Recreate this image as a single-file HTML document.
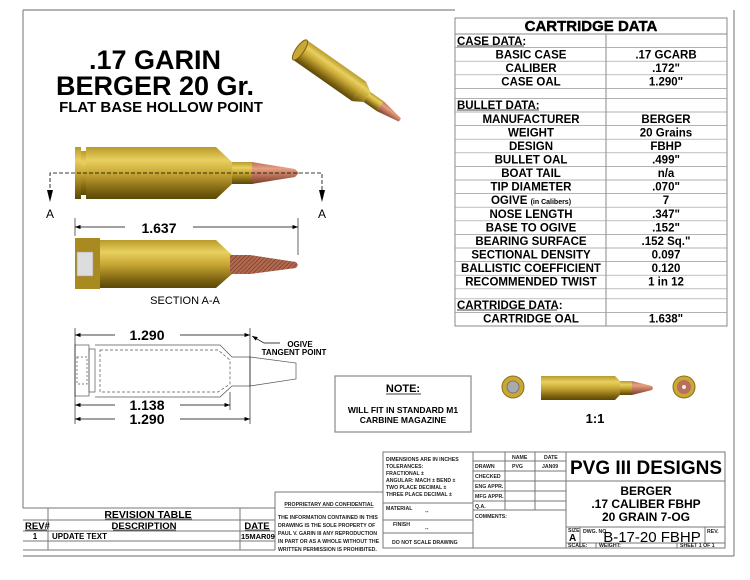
<!DOCTYPE html>
<html><head><meta charset="utf-8"><style>
body{margin:0;background:#fff;}
svg{display:block;font-family:"Liberation Sans",Arial,sans-serif;}
</style></head><body>
<svg width="750" height="580" viewBox="0 0 750 580" xmlns="http://www.w3.org/2000/svg">
<defs>
<linearGradient id="brass" x1="0" y1="0" x2="0" y2="1">
<stop offset="0" stop-color="#b89a2a"/><stop offset="0.25" stop-color="#e8d060"/><stop offset="0.5" stop-color="#c9a835"/><stop offset="0.85" stop-color="#7a6010"/><stop offset="1" stop-color="#5a4808"/></linearGradient>
<linearGradient id="cu" x1="0" y1="0" x2="0" y2="1">
<stop offset="0" stop-color="#b8705a"/><stop offset="0.3" stop-color="#e8a080"/><stop offset="1" stop-color="#7a3a28"/></linearGradient>
<pattern id="hatch" width="3" height="3" patternUnits="userSpaceOnUse" patternTransform="rotate(45)"><rect width="3" height="3" fill="#b06a50"/><line x1="0" y1="0" x2="0" y2="3" stroke="#6a2a18" stroke-width="1"/></pattern>
<marker id="ar" markerWidth="8" markerHeight="6" refX="8" refY="3" orient="auto"><path d="M0,0 L8,3 L0,6Z" fill="#000"/></marker>
</defs>
<g fill="none" stroke="#888" stroke-width="1.2">
<line x1="23" y1="10" x2="455" y2="10"/>
<line x1="23" y1="10" x2="23" y2="508"/>
<line x1="734" y1="10" x2="734" y2="556"/>
<line x1="23" y1="556" x2="734" y2="556"/>
</g>
<!-- Title -->
<g text-anchor="middle" font-weight="bold" fill="#000">
<text x="155" y="69" font-size="27">.17 GARIN</text>
<text x="155" y="95" font-size="27">BERGER 20 Gr.</text>
<text x="161" y="112" font-size="15">FLAT BASE HOLLOW POINT</text>
</g>
<!-- angled cartridge -->
<g transform="translate(300,50) rotate(35)">
<rect x="0" y="-12" width="72" height="24" fill="url(#brass)"/>
<ellipse cx="0" cy="0" rx="4" ry="12" fill="#c9a835" stroke="#7a6010"/>
<path d="M72,-12 L82,-6 L82,6 L72,12Z" fill="url(#brass)"/>
<rect x="82" y="-6" width="16" height="12" fill="url(#brass)"/>
<path d="M98,-6 L122,-2 L122,2 L98,6Z" fill="url(#cu)"/>
</g>
<!-- side view 1 -->
<g>
<rect x="75" y="147" width="6" height="52" fill="url(#brass)"/>
<rect x="81" y="151" width="5" height="44" fill="url(#brass)"/>
<rect x="86" y="147" width="130" height="52" fill="url(#brass)"/>
<path d="M216,147 L232,162 L232,184 L216,199Z" fill="url(#brass)"/>
<rect x="232" y="162" width="20" height="22" fill="url(#brass)"/>
<path d="M252,162 L295,169 L299,173 L295,177 L252,184Z" fill="url(#cu)"/>
</g>
<g stroke="#000" stroke-width="0.8" fill="none">
<path d="M50,200 L50,173 L322,173 L322,200" stroke-dasharray="4,2"/>
</g>
<path d="M47,190 L50,202 L53,190Z M319,190 L322,202 L325,190Z"/>
<text x="50" y="218" font-size="12" text-anchor="middle">A</text>
<text x="322" y="218" font-size="12" text-anchor="middle">A</text>
<line x1="75" y1="218" x2="75" y2="236" stroke="#000" stroke-width="0.6"/>
<line x1="298" y1="218" x2="298" y2="255" stroke="#000" stroke-width="0.6"/>
<line x1="125" y1="227" x2="75" y2="227" stroke="#000" stroke-width="0.7" marker-end="url(#ar)"/>
<line x1="193" y1="227" x2="298" y2="227" stroke="#000" stroke-width="0.7" marker-end="url(#ar)"/>
<text x="159" y="233" font-size="14" font-weight="bold" text-anchor="middle">1.637</text>
<!-- section view -->
<g>
<rect x="75" y="238" width="25" height="51" fill="#a88a20"/>
<rect x="100" y="240" width="116" height="48" fill="url(#brass)"/>
<path d="M216,240 L232,255 L232,274 L216,288Z" fill="url(#brass)"/>
<rect x="232" y="255" width="18" height="19" fill="url(#brass)"/>
<path d="M230,255 L250,255 L296,262 L298,265 L296,268 L250,274 L230,274Z" fill="url(#hatch)"/>
<rect x="77" y="252" width="16" height="24" fill="#ddd" stroke="#999" stroke-width="0.5"/>
</g>
<text x="185" y="304" font-size="11" text-anchor="middle">SECTION A-A</text>
<!-- line drawing -->
<g stroke="#555" stroke-width="0.7" fill="none">
<rect x="75" y="345" width="14" height="51"/>
<rect x="89" y="349" width="6" height="43"/>
<path d="M95,345 L220,345 L232,357 L250,357 L296,363 L296,379 L250,386 L232,386 L220,397 L95,397"/>
<line x1="250" y1="357" x2="250" y2="386"/>
<path d="M100,350 L218,350 L230,360 L230,384 L218,392 L100,392Z" stroke-dasharray="3,2"/>
<rect x="77" y="357" width="10" height="27" stroke-dasharray="2,2"/>
</g>
<g stroke="#000" stroke-width="0.6">
<line x1="75" y1="328" x2="75" y2="424"/><line x1="250" y1="328" x2="250" y2="424"/><line x1="230" y1="392" x2="230" y2="410"/>
</g>
<g stroke="#000" stroke-width="0.7">
<line x1="115" y1="335" x2="75" y2="335" marker-end="url(#ar)"/><line x1="180" y1="335" x2="250" y2="335" marker-end="url(#ar)"/>
<line x1="115" y1="405" x2="75" y2="405" marker-end="url(#ar)"/><line x1="180" y1="405" x2="230" y2="405" marker-end="url(#ar)"/>
<line x1="115" y1="419" x2="75" y2="419" marker-end="url(#ar)"/><line x1="180" y1="419" x2="250" y2="419" marker-end="url(#ar)"/>
<path d="M280,343 L264,343 L252,336" fill="none" marker-end="url(#ar)"/>
</g>
<g font-size="14" font-weight="bold" text-anchor="middle">
<text x="147" y="340">1.290</text><text x="147" y="410">1.138</text><text x="147" y="424">1.290</text>
</g>
<text x="300" y="347" font-size="8" font-weight="bold" text-anchor="middle">OGIVE</text>
<text x="294" y="355" font-size="8" font-weight="bold" text-anchor="middle">TANGENT POINT</text>
<!-- note -->
<rect x="335" y="376" width="136" height="56" fill="#fff" stroke="#888" stroke-width="1.2"/>
<text x="403" y="392" font-size="11" font-weight="bold" text-anchor="middle">NOTE:</text>
<line x1="386" y1="394" x2="421" y2="394" stroke="#000" stroke-width="0.8"/>
<text x="403" y="413" font-size="8.5" font-weight="bold" text-anchor="middle">WILL FIT IN STANDARD M1</text>
<text x="403" y="423" font-size="8.5" font-weight="bold" text-anchor="middle">CARBINE MAGAZINE</text>
<!-- small cartridges -->
<circle cx="513" cy="387" r="11" fill="#c9a835" stroke="#8a7018"/><circle cx="513" cy="387" r="6" fill="#aaa" stroke="#777"/>
<circle cx="684" cy="387" r="11" fill="#c9a835" stroke="#8a7018"/><circle cx="684" cy="387" r="7" fill="#b8705a"/><circle cx="684" cy="387" r="2" fill="#eee"/>
<rect x="541" y="376" width="74" height="24" fill="url(#brass)"/>
<path d="M615,376 L620,381 L620,395 L615,400Z" fill="url(#brass)"/>
<rect x="620" y="381" width="12" height="14" fill="url(#brass)"/>
<path d="M632,381 L652,386 L653,388 L652,390 L632,395Z" fill="url(#cu)"/>
<text x="595" y="423" font-size="13" font-weight="bold" text-anchor="middle">1:1</text>
<!-- data table -->
<g stroke="#888" stroke-width="1" fill="none">
<rect x="455" y="18" width="272" height="308"/>
<line x1="455" y1="34" x2="727" y2="34"/>
<line x1="606" y1="34" x2="606" y2="326"/>
</g>
<g stroke="#999" stroke-width="0.7">
<line x1="455" y1="47.6" x2="727" y2="47.6"/><line x1="455" y1="61.2" x2="727" y2="61.2"/><line x1="455" y1="74.8" x2="727" y2="74.8"/><line x1="455" y1="88.4" x2="727" y2="88.4"/><line x1="455" y1="98.4" x2="727" y2="98.4"/>
<line x1="455" y1="112" x2="727" y2="112"/><line x1="455" y1="125.6" x2="727" y2="125.6"/><line x1="455" y1="139.2" x2="727" y2="139.2"/><line x1="455" y1="152.8" x2="727" y2="152.8"/><line x1="455" y1="166.4" x2="727" y2="166.4"/><line x1="455" y1="180" x2="727" y2="180"/><line x1="455" y1="193.6" x2="727" y2="193.6"/><line x1="455" y1="207.2" x2="727" y2="207.2"/><line x1="455" y1="220.8" x2="727" y2="220.8"/><line x1="455" y1="234.4" x2="727" y2="234.4"/><line x1="455" y1="248" x2="727" y2="248"/><line x1="455" y1="261.6" x2="727" y2="261.6"/><line x1="455" y1="275.2" x2="727" y2="275.2"/><line x1="455" y1="288.8" x2="727" y2="288.8"/><line x1="455" y1="298.8" x2="727" y2="298.8"/><line x1="455" y1="312.4" x2="727" y2="312.4"/>
</g>
<text x="591" y="31" font-size="15" font-weight="bold" text-anchor="middle" stroke="#000" stroke-width="0.4">CARTRIDGE DATA</text>
<g font-size="11.5" font-weight="bold">
<text x="457" y="45">CASE DATA:</text>
<text x="457" y="109">BULLET DATA:</text>
<text x="457" y="309">CARTRIDGE DATA:</text>
</g>
<g stroke="#000" stroke-width="0.8"><line x1="457" y1="46" x2="524" y2="46"/><line x1="457" y1="110" x2="539" y2="110"/><line x1="457" y1="310" x2="557" y2="310"/></g>
<g font-size="11.5" font-weight="bold" text-anchor="middle">
<text x="531" y="58.5">BASIC CASE</text><text x="666" y="58.5">.17 GCARB</text>
<text x="531" y="72">CALIBER</text><text x="666" y="72">.172"</text>
<text x="531" y="85.5">CASE OAL</text><text x="666" y="85.5">1.290"</text>
<text x="531" y="123">MANUFACTURER</text><text x="666" y="123">BERGER</text>
<text x="531" y="136.5">WEIGHT</text><text x="666" y="136.5">20 Grains</text>
<text x="531" y="150">DESIGN</text><text x="666" y="150">FBHP</text>
<text x="531" y="163.5">BULLET OAL</text><text x="666" y="163.5">.499"</text>
<text x="531" y="177">BOAT TAIL</text><text x="666" y="177">n/a</text>
<text x="531" y="190.5">TIP DIAMETER</text><text x="666" y="190.5">.070"</text>
<text x="531" y="204">OGIVE <tspan font-size="7">(in Calibers)</tspan></text><text x="666" y="204">7</text>
<text x="531" y="218">NOSE LENGTH</text><text x="666" y="218">.347"</text>
<text x="531" y="231.5">BASE TO OGIVE</text><text x="666" y="231.5">.152"</text>
<text x="531" y="245">BEARING SURFACE</text><text x="666" y="245">.152 Sq."</text>
<text x="531" y="258.5">SECTIONAL DENSITY</text><text x="666" y="258.5">0.097</text>
<text x="531" y="272">BALLISTIC COEFFICIENT</text><text x="666" y="272">0.120</text>
<text x="531" y="285.5">RECOMMENDED TWIST</text><text x="666" y="285.5">1 in 12</text>
<text x="531" y="322.5">CARTRIDGE OAL</text><text x="666" y="322.5">1.638"</text>
</g>
<!-- title block -->
<g stroke="#777" stroke-width="1" fill="none">
<path d="M23,508 L275,508 M23,520 L275,520 M23,531 L275,531 M23,541 L275,541 M23,550 L275,550"/>
<path d="M48,508 L48,550 M240,508 L240,550 M275,492 L275,550 M275,492 L383,492"/>
<rect x="383" y="452" width="342" height="96"/>
<path d="M473,452 L473,548 M383,503 L473,503 M383,520 L473,520 M383,533 L473,533"/>
<path d="M505,452 L505,510 M535,452 L535,510 M566,452 L566,548"/>
<path d="M473,461 L566,461 M473,471 L566,471 M473,481 L566,481 M473,491 L566,491 M473,501 L566,501 M473,510 L566,510"/>
<path d="M566,481 L725,481 M566,527 L725,527 M566,543 L725,543 M580,527 L580,548 M596,543 L596,548 M677,543 L677,548 M705,527 L705,543"/>
</g>
<g font-size="9.5" font-weight="bold">
<text x="148" y="518" text-anchor="middle" font-size="10.5">REVISION TABLE</text>
<text x="25" y="529">REV#</text>
<text x="144" y="529" text-anchor="middle">DESCRIPTION</text>
<text x="257" y="529" text-anchor="middle">DATE</text>
<text x="35" y="539" text-anchor="middle" font-size="8">1</text>
<text x="52" y="539" font-size="8">UPDATE TEXT</text>
<text x="241" y="539" font-size="7.5">15MAR09</text>
</g>
<g stroke="#000" stroke-width="0.7"><line x1="105" y1="519" x2="192" y2="519"/><line x1="25" y1="530" x2="47" y2="530"/><line x1="113" y1="530" x2="176" y2="530"/><line x1="245" y1="530" x2="270" y2="530"/></g>
<g font-size="5.2" font-weight="bold" fill="#222">
<text x="329" y="506" text-anchor="middle" text-decoration="underline">PROPRIETARY AND CONFIDENTIAL</text>
<text x="278" y="519">THE INFORMATION CONTAINED IN THIS</text>
<text x="278" y="527">DRAWING IS THE SOLE PROPERTY OF</text>
<text x="278" y="535">PAUL V. GARIN III ANY REPRODUCTION</text>
<text x="278" y="543">IN PART OR AS A WHOLE WITHOUT THE</text>
<text x="278" y="551">WRITTEN PERMISSION IS PROHIBITED.</text>
<text x="386" y="461">DIMENSIONS ARE IN INCHES</text>
<text x="386" y="468">TOLERANCES:</text>
<text x="386" y="475">FRACTIONAL ±</text>
<text x="386" y="482">ANGULAR: MACH ±    BEND ±</text>
<text x="386" y="489">TWO PLACE DECIMAL   ±</text>
<text x="386" y="496">THREE PLACE DECIMAL  ±</text>
<text x="386" y="510">MATERIAL</text><text x="425" y="513">--</text>
<text x="393" y="526">FINISH</text><text x="425" y="530">--</text>
<text x="392" y="544">DO  NOT  SCALE  DRAWING</text>
<text x="512" y="459">NAME</text><text x="544" y="459">DATE</text>
<text x="475" y="468">DRAWN</text><text x="512" y="468">PVG</text><text x="542" y="468">JAN09</text>
<text x="475" y="478">CHECKED</text><text x="475" y="488">ENG APPR.</text><text x="475" y="498">MFG APPR.</text><text x="475" y="508">Q.A.</text><text x="475" y="518">COMMENTS:</text>
<text x="568" y="532">SIZE</text><text x="583" y="533">DWG.  NO.</text><text x="707" y="533">REV.</text>
<text x="568" y="547">SCALE:</text><text x="599" y="547">WEIGHT:</text><text x="680" y="547">SHEET 1 OF 1</text>
</g>
<text x="569" y="541" font-size="10" font-weight="bold">A</text>
<text x="652" y="542" font-size="15" text-anchor="middle">B-17-20 FBHP</text>
<text x="646" y="474" font-size="19" font-weight="bold" text-anchor="middle">PVG III DESIGNS</text>
<g font-size="12" font-weight="bold" text-anchor="middle">
<text x="646" y="495">BERGER</text><text x="646" y="508">.17 CALIBER FBHP</text><text x="646" y="521">20 GRAIN 7-OG</text>
</g>
</svg>
</body></html>
